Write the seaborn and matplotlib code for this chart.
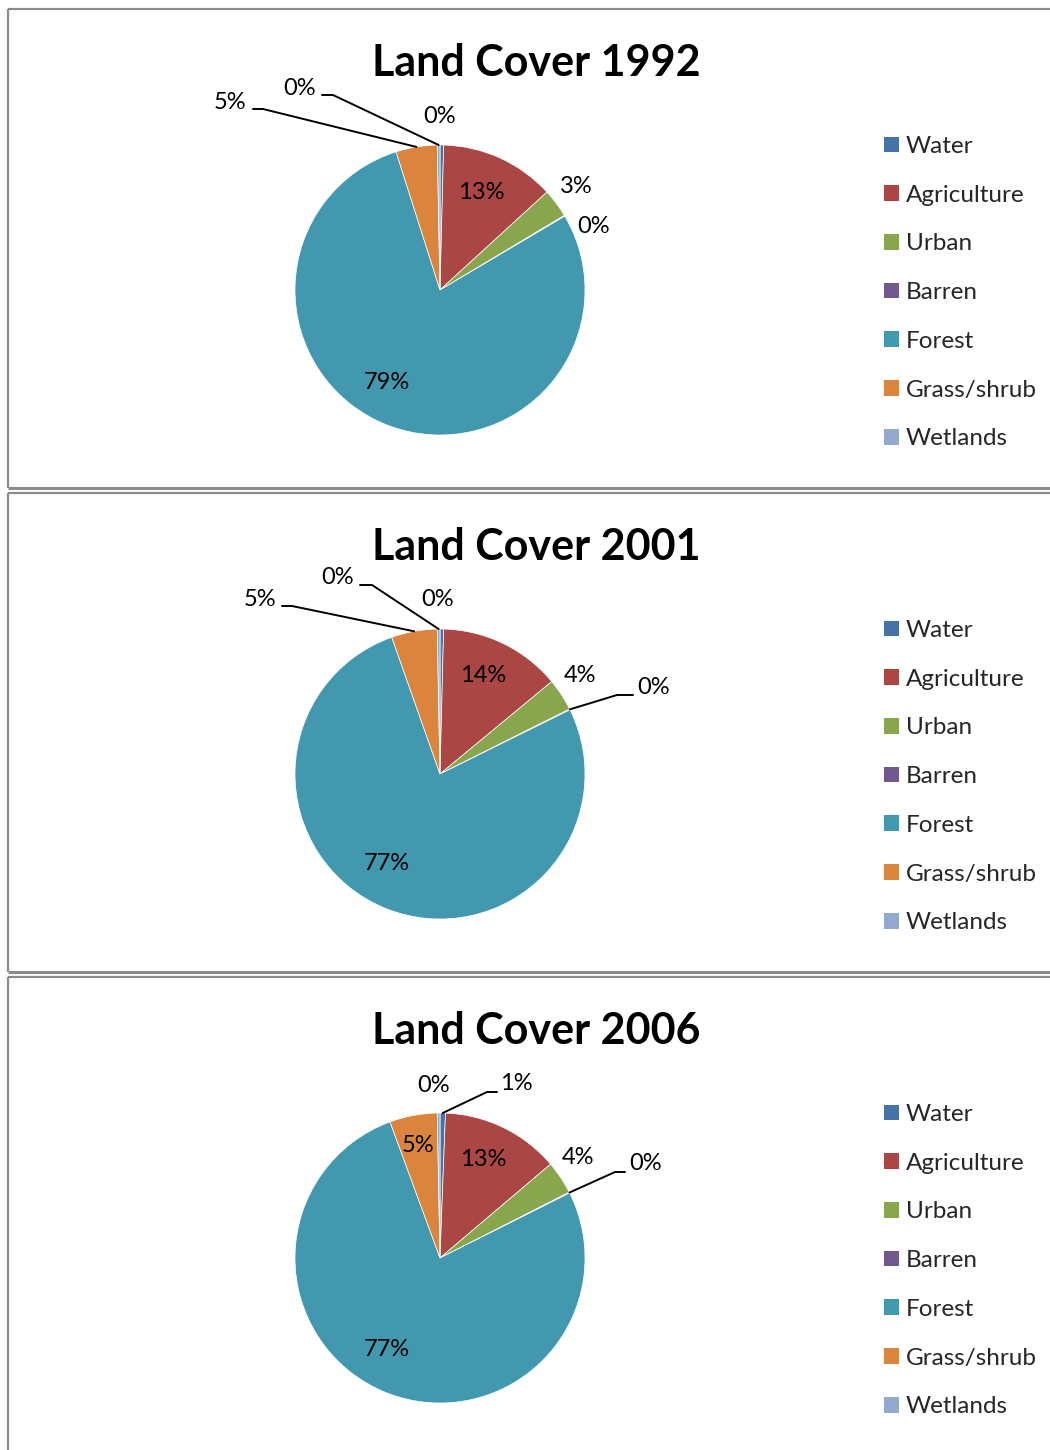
import numpy as np
import matplotlib
matplotlib.use("Agg")
import matplotlib.pyplot as plt
import seaborn as sns
from matplotlib.patches import Patch
from matplotlib.lines import Line2D

# Land cover shares (percent of area), slices in drawing order
categories = ["Water", "Agriculture", "Urban", "Barren", "Forest", "Grass/shrub", "Wetlands"]
years = ["1992", "2001", "2006"]
share_1992 = [0.4, 12.8, 3.2, 0.1, 78.6, 4.6, 0.3]
share_2001 = [0.4, 13.6, 3.6, 0.1, 76.9, 5.1, 0.3]
share_2006 = [0.6, 13.2, 3.7, 0.1, 76.8, 5.3, 0.3]
palette = ["#4572A7", "#AA4643", "#89A54E", "#71588F", "#4198AF", "#DB843D", "#93A9CF"]

sns.set_theme(style="white")
plt.rcParams["font.family"] = ["Lato", "DejaVu Sans"]

W, H = 1050, 1450
PANEL_H = 484
PANEL_TOPS = [9, 493, 977]
CX, CY_OFF, R = 440, 281, 145

# Label placement per panel: text offset from pie centre (px, y down),
# optional leader given as (elbow, tail) offsets.
label_layout = {
    "1992": {
        0: ((0, -174), None),
        1: ((41, -98), None),
        2: ((136, -104), None),
        3: ((154, -64), None),
        4: ((-53, 92), None),
        5: ((-210, -188), ((-177, -181), (-187, -181))),
        6: ((-140, -202), ((-107, -195), (-118, -195))),
    },
    "2001": {
        0: ((-2, -174), None),
        1: ((43, -98), None),
        2: ((140, -98), None),
        3: ((214, -86), ((177, -79), (193, -79))),
        4: ((-53, 90), None),
        5: ((-180, -174), ((-148, -168), (-158, -168))),
        6: ((-102, -196), ((-68, -189), (-80, -189))),
    },
    "2006": {
        0: ((76, -174), ((47, -166), (57, -166))),
        1: ((43, -98), None),
        2: ((138, -100), None),
        3: ((206, -94), ((175, -86), (185, -86))),
        4: ((-53, 92), None),
        5: ((-22, -112), None),
        6: ((-6, -172), None),
    },
}

fig = plt.figure(figsize=(W / 100, H / 100), dpi=100)
fig.patch.set_facecolor("white")


def pct(v):
    return f"{int(np.floor(v + 0.5))}%"


for year, shares, top in zip(years, [share_1992, share_2001, share_2006], PANEL_TOPS):
    ax = fig.add_axes([0, 1 - (top + PANEL_H) / H, 1, PANEL_H / H])
    wedges, _ = ax.pie(shares, colors=palette, startangle=90, counterclock=False,
                       radius=R, wedgeprops=dict(edgecolor="white", linewidth=0.5))
    ax.set_xlim(-CX, W - CX)
    ax.set_ylim(-(PANEL_H - CY_OFF), CY_OFF)
    ax.set_aspect("equal", adjustable="box")
    ax.axis("off")

    # panel frame (left, top, bottom edges; right edge runs off the page)
    x0 = -CX + 8
    y_top = CY_OFF - 0
    y_bot = CY_OFF - (PANEL_H - 5)
    frame_kw = dict(color="#8c8c8c", lw=1.6, solid_capstyle="butt", clip_on=False)
    ax.plot([x0, W - CX + 5], [y_top, y_top], **frame_kw)
    ax.plot([x0, x0], [y_top, y_bot], **frame_kw)
    ax.plot([x0, W - CX + 5], [y_bot, y_bot], color="#8c8c8c", lw=2.2,
            solid_capstyle="butt", clip_on=False)

    ax.text(536 - CX, CY_OFF - 54, f"Land Cover {year}", ha="center", va="center",
            fontsize=31, fontweight="bold", color="black")

    # percentage labels with leader lines for the thin slices
    for i, w in enumerate(wedges):
        (dx, dy), leader = label_layout[year][i]
        ax.text(dx, -dy, pct(shares[i]), ha="center", va="center",
                fontsize=17, color="black")
        if leader is not None:
            (ex, ey), (tx, ty) = leader
            mid = np.deg2rad((w.theta1 + w.theta2) / 2)
            ax.add_line(Line2D([R * np.cos(mid), ex, tx], [R * np.sin(mid), -ey, -ty],
                               color="black", lw=1.4))

    handles = [Patch(facecolor=c, edgecolor="none") for c in palette]
    ax.legend(handles, categories, loc="upper left", frameon=False,
              bbox_to_anchor=(884 / W, 1 - 127 / PANEL_H), bbox_transform=ax.transAxes,
              fontsize=17.5, handlelength=0.62, handleheight=0.62, handletextpad=0.28,
              labelspacing=1.14, borderpad=0, borderaxespad=0)

fig.savefig("out.png", dpi=100, facecolor="white")
